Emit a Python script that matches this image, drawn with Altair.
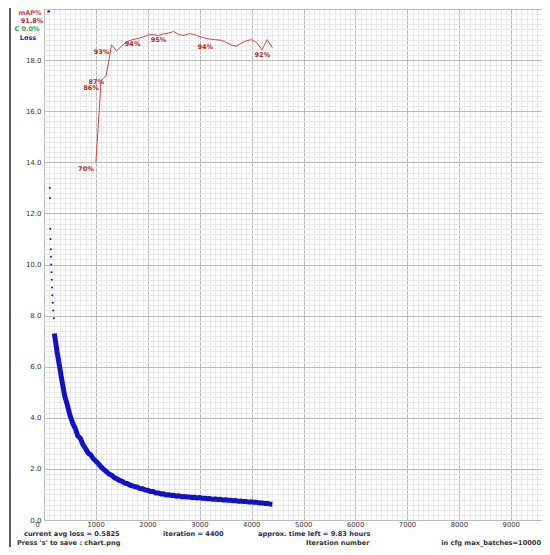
import altair as alt
import pandas as pd

# ---------------- data ----------------
loss_iter = [200, 250, 300, 350, 400, 450, 500, 550, 600, 650, 700, 750, 800, 850, 900, 950,
             1000, 1050, 1100, 1150, 1200, 1250, 1300, 1350, 1400, 1450, 1500, 1550, 1600, 1650,
             1700, 1750, 1800, 1850, 1900, 1950, 2000, 2050, 2100, 2150, 2200, 2250, 2300, 2350,
             2400, 2450, 2500, 2550, 2600, 2650, 2700, 2750, 2800, 2850, 2900, 2950, 3000, 3050,
             3100, 3150, 3200, 3250, 3300, 3350, 3400, 3450, 3500, 3550, 3600, 3650, 3700, 3750,
             3800, 3850, 3900, 3950, 4000, 4050, 4100, 4150, 4200, 4250, 4300, 4350, 4400]
loss_vals = [7.3, 6.6, 6.0, 5.4, 4.85, 4.5, 4.1, 3.8, 3.6, 3.3, 3.2, 2.95, 2.8, 2.62, 2.55, 2.4,
             2.3, 2.2, 2.08, 1.98, 1.9, 1.8, 1.76, 1.66, 1.62, 1.55, 1.52, 1.45, 1.43, 1.37,
             1.34, 1.3, 1.29, 1.23, 1.22, 1.17, 1.16, 1.12, 1.12, 1.06, 1.06, 1.02, 1.03, 0.98,
             0.99, 0.96, 0.97, 0.93, 0.95, 0.91, 0.92, 0.9, 0.9, 0.88, 0.89, 0.86, 0.88, 0.85,
             0.85, 0.83, 0.84, 0.81, 0.82, 0.8, 0.81, 0.78, 0.79, 0.77, 0.77, 0.75, 0.76, 0.73,
             0.74, 0.72, 0.72, 0.7, 0.71, 0.69, 0.69, 0.67, 0.67, 0.65, 0.65, 0.63, 0.62]

dot_iter = [80, 100, 110, 115, 120, 125, 130, 135, 140, 145, 150, 155, 160, 170, 180, 190]
dot_vals = [19.9, 19.9, 13.0, 12.6, 11.4, 11.0, 10.6, 10.3, 10.0, 9.7, 9.4, 9.1, 8.8, 8.5, 8.2, 7.9]

map_iter = [1000, 1100, 1200, 1300, 1400, 1500, 1600, 1700, 1800, 1900, 2000, 2100, 2200, 2300,
            2400, 2500, 2600, 2700, 2800, 2900, 3000, 3100, 3200, 3300, 3400, 3500, 3600, 3700,
            3800, 3900, 4000, 4100, 4200, 4300, 4400]
map_vals = [70.0, 86.0, 87.0, 93.0, 91.8, 92.8, 93.6, 94.0, 94.2, 94.5, 94.9, 95.0, 94.8, 95.1,
            95.3, 95.6, 95.0, 94.8, 95.2, 95.0, 94.6, 94.3, 94.1, 94.0, 93.9, 93.5, 93.0, 92.7,
            93.3, 93.8, 94.0, 93.4, 92.0, 94.0, 92.4]

label_iter = [1000, 1100, 1200, 1300, 1900, 2400, 3300, 4400]
label_vals = [70.0, 86.0, 87.0, 93.0, 94.5, 95.3, 94.0, 92.4]
label_text = ["70%", "86%", "87%", "93%", "94%", "95%", "94%", "92%"]

x_major = [0, 1000, 2000, 3000, 4000, 5000, 6000, 7000, 8000, 9000]
x_minor = list(range(0, 10001, 100))
y_major = [0, 2, 4, 6, 8, 10, 12, 14, 16, 18, 20]
y_minor = [round(i * 0.2, 1) for i in range(0, 101)]

loss_df = pd.DataFrame({"it": loss_iter, "loss": loss_vals})
dot_df = pd.DataFrame({"it": dot_iter, "loss": dot_vals})
map_df = pd.DataFrame({"it": map_iter, "map": map_vals})
lab_df = pd.DataFrame({"it": label_iter, "map": label_vals, "t": label_text})

FONT = "DejaVu Sans"
W, H = 498, 511
xs = alt.Scale(domain=[0, 9595], nice=False, zero=False)
ys = alt.Scale(domain=[0, 20], nice=False)
ms = alt.Scale(domain=[0, 100], nice=False)

# minor grid
minor = alt.Chart(loss_df).mark_line(opacity=0).encode(
    x=alt.X("it:Q", scale=xs, axis=alt.Axis(values=x_minor, grid=True, gridColor="#e8e8e8",
                                             gridWidth=1, labels=False, ticks=False, domain=False,
                                             title=None, orient="bottom")),
    y=alt.Y("loss:Q", scale=ys, axis=alt.Axis(values=y_minor, grid=True, gridColor="#e8e8e8",
                                               gridWidth=1, labels=False, ticks=False, domain=False,
                                               title=None, orient="left")),
)

# major grid + labels, with the loss band
loss_line = alt.Chart(loss_df).mark_line(color="#1212c4", strokeWidth=5, strokeJoin="round").encode(
    x=alt.X("it:Q", scale=xs, axis=alt.Axis(values=x_major, grid=True, gridColor="#bbbbbb",
                                             gridWidth=1, labels=True, ticks=False, domain=False,
                                             title=None, orient="bottom", labelFont=FONT,
                                             labelFontSize=6.8, labelColor="#333333", labelAlign="left",
                                             labelOffset=-9, labelPadding=1, format="d")),
    y=alt.Y("loss:Q", scale=ys, axis=alt.Axis(values=y_major, grid=True, gridColor="#bbbbbb",
                                               gridWidth=1, labels=True, ticks=False, domain=False,
                                               title=None, orient="left", labelFont=FONT,
                                               labelFontSize=7, labelColor="#333333", labelPadding=3,
                                               format=".1f",
                                               labelExpr="datum.value >= 20 ? '' : datum.label")),
)

dots = alt.Chart(dot_df).mark_circle(color="#1212c4", size=4, opacity=1).encode(
    x=alt.X("it:Q", scale=xs, axis=None),
    y=alt.Y("loss:Q", scale=ys, axis=None),
)

map_line = alt.Chart(map_df).mark_line(color="#d04848", strokeWidth=1).encode(
    x=alt.X("it:Q", scale=xs, axis=None),
    y=alt.Y("map:Q", scale=ms, axis=None),
)

map_text = alt.Chart(lab_df).mark_text(color="#b02828", fontSize=6.5, font=FONT, dx=-10, dy=7,
                                       fontWeight="bold").encode(
    x=alt.X("it:Q", scale=xs, axis=None),
    y=alt.Y("map:Q", scale=ms, axis=None),
    text="t:N",
)


def note(txt, x, y, color, size=6.6, align="left", weight="bold"):
    return alt.Chart(alt.Data(values=[{}])).mark_text(
        text=txt, align=align, baseline="middle", fontSize=size, color=color, font=FONT,
        fontWeight=weight).encode(x=alt.value(x), y=alt.value(y))


notes = [
    note("mAP%", -14, 4, "#d04848", 6.5, "center"),
    note("91.8%", -12, 12, "#b02828", 6.5, "center"),
    note("C 0.0%", -17, 20, "#30a050", 6.5, "center"),
    note("Loss", -16, 29, "#2020c0", 6.5, "center"),
    note("current avg loss = 0.5825", -20, 525, "#2a2a5e"),
    note("iteration = 4400", 119, 525, "#2a2a5e"),
    note("approx. time left = 9.83 hours", 214, 525, "#2a2a5e"),
    note("Press 's' to save : chart.png", -27, 533.5, "#333333"),
    note("Iteration number", 262, 533.5, "#333333"),
    note("in cfg max_batches=10000", 497, 533.5, "#333333", 6.6, "right"),
]

frame = alt.Chart(alt.Data(values=[{}])).mark_rule(color="#222222", strokeWidth=1.5).encode(
    x=alt.value(-34), y=alt.value(-1), y2=alt.value(540))

chart = alt.layer(minor, loss_line, dots, map_line, map_text, frame, *notes).resolve_scale(
    y="independent").resolve_axis(x="independent", y="independent").properties(
    width=W, height=H,
    autosize=alt.AutoSizeParams(type="none"),
    padding={"left": 36, "top": 1, "right": 0, "bottom": 27},
    background="white",
).configure_view(stroke=None)

chart.save("out.html", embed_options={"renderer": "svg", "actions": False})
